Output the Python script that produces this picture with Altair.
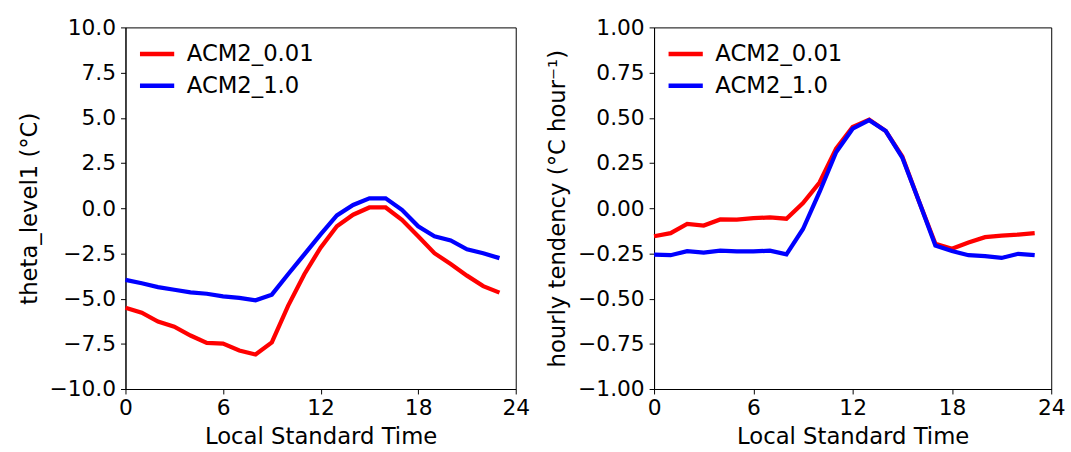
import altair as alt
import pandas as pd

hours = list(range(24))
series_names = ["ACM2_0.01", "ACM2_1.0"]
colors = ["#ff0000", "#0000ff"]

theta_acm2_001 = [-5.5, -5.78, -6.27, -6.55, -7.04, -7.45, -7.49, -7.87, -8.09, -7.42,
                  -5.4, -3.65, -2.18, -1.0, -0.36, 0.04, 0.04, -0.64, -1.55, -2.49,
                  -3.09, -3.73, -4.31, -4.67]
theta_acm2_10 = [-3.96, -4.15, -4.36, -4.51, -4.65, -4.73, -4.87, -4.96, -5.09, -4.78,
                 -3.65, -2.55, -1.45, -0.4, 0.18, 0.55, 0.55, -0.09, -1.0, -1.55,
                 -1.78, -2.27, -2.49, -2.76]

tend_acm2_001 = [-0.155, -0.138, -0.087, -0.096, -0.062, -0.063, -0.055, -0.051, -0.058, 0.028,
                 0.142, 0.33, 0.45, 0.49, 0.427, 0.286, 0.04, -0.197, -0.224, -0.19,
                 -0.16, -0.151, -0.146, -0.138]
tend_acm2_10 = [-0.257, -0.26, -0.237, -0.245, -0.234, -0.239, -0.239, -0.235, -0.255, -0.115,
                0.09, 0.31, 0.44, 0.487, 0.427, 0.28, 0.04, -0.206, -0.237, -0.26,
                -0.265, -0.275, -0.252, -0.26]

x_ticks = [0, 6, 12, 18, 24]
theta_ticks = [-10, -7.5, -5, -2.5, 0, 2.5, 5, 7.5, 10]
tend_ticks = [-1, -0.75, -0.5, -0.25, 0, 0.25, 0.5, 0.75, 1]

df_theta = pd.DataFrame({
    "hour": hours * 2,
    "value": theta_acm2_001 + theta_acm2_10,
    "series": [series_names[0]] * 24 + [series_names[1]] * 24,
})
df_tend = pd.DataFrame({
    "hour": hours * 2,
    "value": tend_acm2_001 + tend_acm2_10,
    "series": [series_names[0]] * 24 + [series_names[1]] * 24,
})

FONT = "DejaVu Sans"
FS_TICK = 22
FS = 23

color = alt.Color(
    "series:N",
    scale=alt.Scale(domain=series_names, range=colors),
    legend=alt.Legend(
        title=None, orient="none", legendX=12, legendY=7,
        symbolType="stroke", symbolStrokeWidth=4.5, symbolSize=1200,
        labelFontSize=FS, labelFont=FONT, labelColor="black",
        rowPadding=-8, symbolOffset=0, labelOffset=10, padding=0,
    ),
)

xenc = alt.X("hour:Q", title="Local Standard Time",
             scale=alt.Scale(domain=[0, 24], nice=False),
             axis=alt.Axis(values=x_ticks, format="d"))

left = alt.Chart(df_theta).mark_line(strokeWidth=4.3).encode(
    x=xenc,
    y=alt.Y("value:Q", title="theta_level1 (°C)",
            scale=alt.Scale(domain=[-10, 10], nice=False),
            axis=alt.Axis(values=theta_ticks, format=".1f")),
    color=color,
    order="hour:Q",
).properties(width=395, height=366)

right = alt.Chart(df_tend).mark_line(strokeWidth=4.3).encode(
    x=xenc,
    y=alt.Y("value:Q", title="hourly tendency (°C hour⁻¹)",
            scale=alt.Scale(domain=[-1, 1], nice=False),
            axis=alt.Axis(values=tend_ticks, format=".2f")),
    color=color,
    order="hour:Q",
).properties(width=402, height=366)

chart = alt.hconcat(left, right, spacing=16).resolve_scale(
    color="independent"
).configure_axis(
    grid=False,
    domainColor="black", domainWidth=1,
    tickColor="black", tickSize=5, tickWidth=1,
    labelFont=FONT, labelFontSize=FS_TICK, labelColor="black",
    titleFont=FONT, titleFontSize=FS, titleColor="black", titleFontWeight="normal",
    labelPadding=4,
).configure_axisY(
    labelPadding=5, titlePadding=8,
).configure_axisX(
    titlePadding=7, labelFlush=False,
).configure_view(
    stroke="black", strokeWidth=1,
).properties(
    padding={"left": 18, "top": 13, "right": 5, "bottom": 0},
    background="white",
)

chart.save("out.html", embed_options={"renderer": "svg", "actions": False})
